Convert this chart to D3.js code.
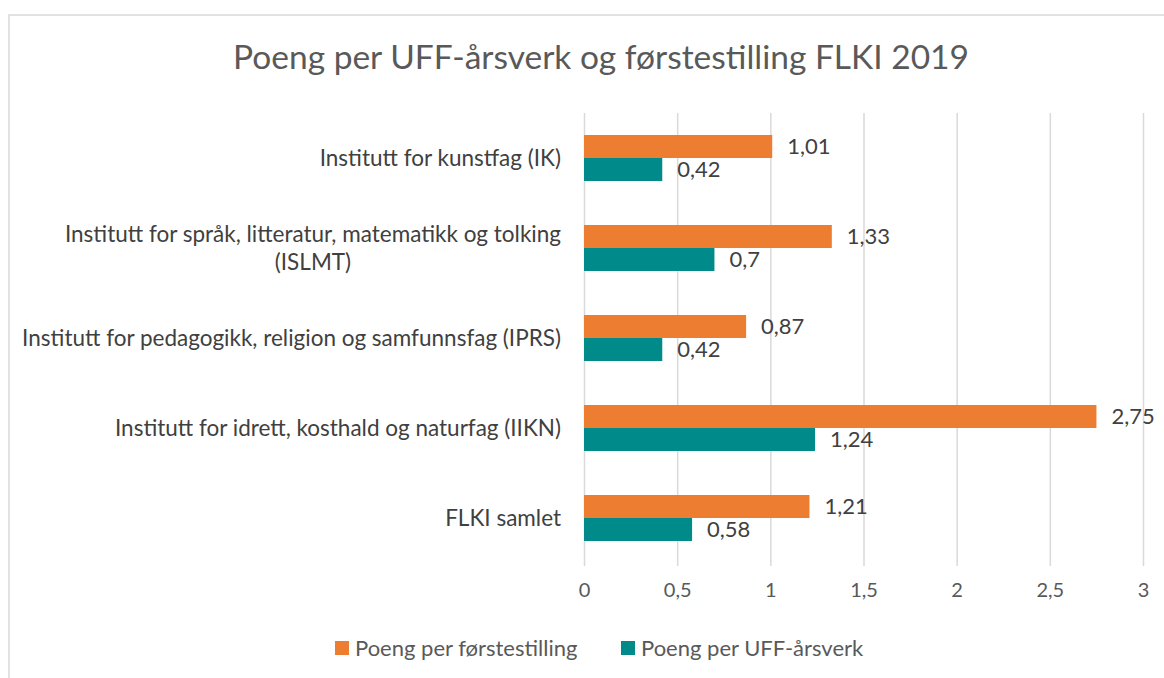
<!DOCTYPE html>
<html>
<head>
<meta charset="utf-8">
<script src="https://cdn.jsdelivr.net/npm/d3@7"></script>
<style>
	body { margin: 0; background: #fff; }
	text { font-family: Lato, "Open Sans", sans-serif; }
</style>
</head>
<body>
<script>
var categories = [
	"Institutt for kunstfag (IK)",
	"Institutt for språk, litteratur, matematikk og tolking|(ISLMT)",
	"Institutt for pedagogikk, religion og samfunnsfag (IPRS)",
	"Institutt for idrett, kosthald og naturfag (IIKN)",
	"FLKI samlet"
];
var seriesNames = ["Poeng per førstestilling", "Poeng per UFF-årsverk"];
var forstestilling = [1.01, 1.33, 0.87, 2.75, 1.21];
var uffArsverk = [0.42, 0.70, 0.42, 1.24, 0.58];
var xTicks = [0, 0.5, 1, 1.5, 2, 2.5, 3];

function main(){
	var w = 1164;
	var h = 678;
	var colors = ["#ED7D31", "#008A8A"];
	var fmt = function(v){ return String(+v.toFixed(2)).replace(".", ","); };

	var dataset = categories.map(function(c, i){
		return { name: c, values: [forstestilling[i], uffArsverk[i]] };
	});

	var svg = d3.select("body")
				.append("svg")
				.attr("width", w)
				.attr("height", h);

	// chart frame
	svg.append("path")
		.attr("d", "M9,678 V15 H1164")
		.attr("fill", "none")
		.attr("stroke", "#D9D9D9")
		.attr("stroke-width", 1.5);

	svg.append("text")
		.text("Poeng per UFF-årsverk og førstestilling FLKI 2019")
		.attr("x", 601)
		.attr("y", 69)
		.attr("text-anchor", "middle")
		.attr("font-size", 33.5)
		.attr("fill", "#595959");

	var xScale = d3.scaleLinear()
					.domain([0, 3])
					.range([584, 1143]);

	var yScale = d3.scaleBand()
					.domain(categories)
					.range([113, 563])
					.paddingInner(0.489)
					.paddingOuter(0.2445);

	var subScale = d3.scaleBand()
					.domain([0, 1])
					.range([0, yScale.bandwidth()]);

	var xAxis = d3.axisBottom(xScale)
					.tickValues(xTicks)
					.tickSize(-(563 - 113))
					.tickPadding(17)
					.tickFormat(fmt);

	var gx = svg.append("g")
			.attr("transform", "translate(0,566)")
			.call(xAxis);
	gx.select(".domain").remove();
	gx.selectAll(".tick line")
		.attr("stroke", "#D9D9D9")
		.attr("stroke-width", 1.5)
		.attr("y2", -(566 - 113));
	gx.selectAll(".tick text")
		.attr("font-size", 20)
		.attr("fill", "#595959")
		.attr("font-family", "Lato, sans-serif");

	var groups = svg.selectAll(".group")
		.data(dataset)
		.enter()
		.append("g")
		.attr("class", "group")
		.attr("transform", function(d){ return "translate(0," + yScale(d.name) + ")"; });

	groups.selectAll("rect")
		.data(function(d){ return d.values; })
		.enter()
		.append("rect")
		.attr("x", xScale(0))
		.attr("y", function(d, i){ return subScale(i); })
		.attr("width", function(d){ return xScale(d) - xScale(0); })
		.attr("height", subScale.bandwidth())
		.attr("fill", function(d, i){ return colors[i]; });

	groups.selectAll(".label")
		.data(function(d){ return d.values; })
		.enter()
		.append("text")
		.attr("class", "label")
		.text(fmt)
		.attr("x", function(d){ return xScale(d) + 15; })
		.attr("y", function(d, i){ return subScale(i) + subScale.bandwidth() / 2; })
		.attr("dy", "0.36em")
		.attr("font-size", 22)
		.attr("fill", "#404040");

	// category labels: right aligned block, wrapped lines centred within it
	var right = 561;
	var lineH = 28;
	dataset.forEach(function(d){
		var lines = d.name.split("|");
		var cy = yScale(d.name) + yScale.bandwidth() / 2;
		var g = svg.append("g");
		var texts = lines.map(function(line, j){
			return g.append("text")
				.text(line)
				.attr("y", cy + (j - (lines.length - 1) / 2) * lineH)
				.attr("dy", "0.36em")
				.attr("font-size", 22.5)
				.attr("fill", "#404040")
				.attr("text-anchor", "middle");
		});
		var widest = d3.max(texts, function(t){ return t.node().getComputedTextLength(); });
		texts.forEach(function(t){ t.attr("x", right - widest / 2); });
	});

	// legend
	var legendX = [335, 621];
	var legend = svg.selectAll(".legend")
		.data(seriesNames)
		.enter()
		.append("g")
		.attr("class", "legend")
		.attr("transform", function(d, i){ return "translate(" + legendX[i] + ",648)"; });
	legend.append("rect")
		.attr("x", 0)
		.attr("y", -7)
		.attr("width", 14)
		.attr("height", 14)
		.attr("fill", function(d, i){ return colors[i]; });
	legend.append("text")
		.text(function(d){ return d; })
		.attr("x", 20)
		.attr("dy", "0.36em")
		.attr("font-size", 22)
		.attr("fill", "#595959");
}

main();
</script>
</body>
</html>
